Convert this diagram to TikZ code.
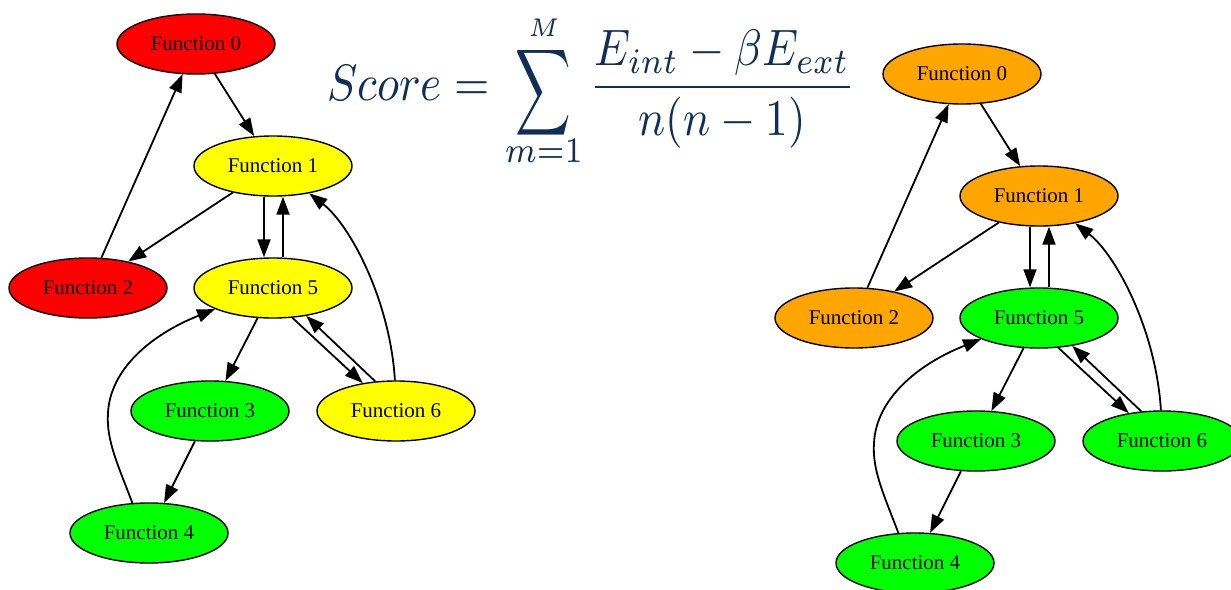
\documentclass[tikz,border=0pt]{standalone}
\usepackage{amsmath}
\usepackage{graphicx}
\usepackage{fontspec}
\newfontfamily\gvfont{Liberation Serif}
\usetikzlibrary{shapes.geometric,arrows.meta}
\definecolor{gvred}{RGB}{255,0,0}
\definecolor{gvyellow}{RGB}{255,255,0}
\definecolor{gvgreen}{RGB}{0,255,0}
\definecolor{gvorange}{RGB}{255,165,0}
\definecolor{navy}{RGB}{16,46,90}
\tikzset{
  fn/.style={ellipse, draw=black, line width=1.4pt, minimum width=158pt, minimum height=60pt,
    inner sep=0pt, font=\gvfont\fontsize{21}{25}\selectfont},
  arr/.style={-{Triangle[length=18pt,width=13pt]}, line width=1.8pt, black}
}
% summation with limits placed at fixed heights from the baseline
\newcommand\ctrbox[2]{\hbox to #1{\hss#2\hss}}
\newcommand\bigsum{\mathop{\hbox{\kern0.8pt%
  \rlap{\ctrbox{16.7pt}{\raisebox{12.5pt}{$\scriptscriptstyle M$}}}%
  \rlap{\ctrbox{16.7pt}{\raisebox{-12.3pt}{$\scriptstyle m=1$}}}%
  \ctrbox{16.7pt}{\raisebox{-1.5pt}{\scalebox{0.85}[1.18]{$\displaystyle\sum$}}}}}}
% #1 prefix, #2 colour of F0/F2, #3 colour of F1, #4 colour of F5/F6, #5 colour of F3/F4
\newcommand\fgraph[5]{%
  \node[fn,fill=#2] (#1f0) at (196,44) {Function 0};
  \node[fn,fill=#3] (#1f1) at (273,166) {Function 1};
  \node[fn,fill=#2] (#1f2) at (88,288) {Function 2};
  \node[fn,fill=#4] (#1f5) at (273,288) {Function 5};
  \node[fn,fill=#5] (#1f3) at (210,411) {Function 3};
  \node[fn,fill=#4] (#1f6) at (396,411) {Function 6};
  \node[fn,fill=#5] (#1f4) at (149,533) {Function 4};
  \draw[arr] (#1f0) -- (#1f1);
  \draw[arr] (#1f2) -- (#1f0);
  \draw[arr] (#1f1) -- (#1f2);
  \draw[arr] ([xshift=-9pt]#1f1.south) -- ([xshift=-9pt]#1f5.north);
  \draw[arr] ([xshift=10pt]#1f5.north) -- ([xshift=10pt]#1f1.south);
  \draw[arr] (#1f5) -- (#1f3);
  \draw[arr] (#1f3) -- (#1f4);
  \draw[arr] (#1f5.-57) -- (#1f6.140);
  \draw[arr] (#1f6.125) -- (#1f5.-40);
  \draw[arr] (#1f6.92) .. controls (390,300) and (350,225) .. (#1f1.-37);
  \draw[arr] (#1f4.119) .. controls (118,465) and (106,440) .. (108,413)
             .. controls (110,370) and (150,335) .. (#1f5.-160);
}
\begin{document}
\begin{tikzpicture}[x=1pt,y=-1pt]
  \clip (0,0) rectangle (1231,589);
  \fill[white] (0,0) rectangle (1231,589);
  \fgraph{l}{gvred}{gvyellow}{gvyellow}{gvgreen}
  \begin{scope}[shift={(766,30)}]
    \fgraph{r}{gvorange}{gvorange}{gvgreen}{gvgreen}
  \end{scope}
  \node[anchor=base west, text=navy, inner sep=0pt] (score) at (327,100)
    {\scalebox{4.53}[5.12]{$\displaystyle Score = \bigsum \frac{E_{int}-\beta E_{ext}}{n(n-1)}$}};
\end{tikzpicture}
\end{document}
